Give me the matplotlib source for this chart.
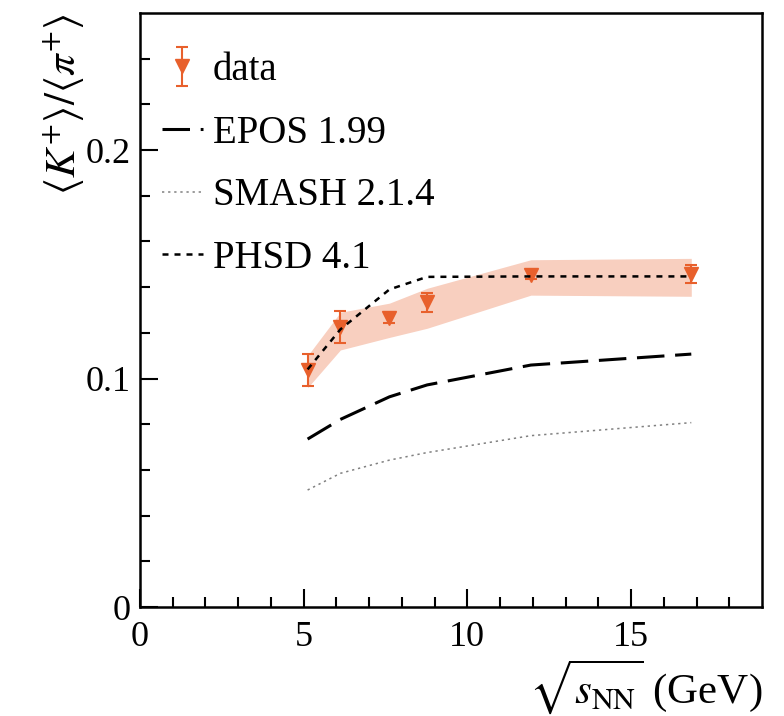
import matplotlib.pyplot as plt
import numpy as np

plt.rcParams['font.family'] = ['Liberation Serif', 'DejaVu Serif']
plt.rcParams['mathtext.fontset'] = 'stix'

# collision energies sqrt(s_NN) in GeV
energy = np.array([5.12, 6.12, 7.62, 8.77, 11.94, 16.84])

# measured K+/pi+ ratio
ratio = np.array([0.1037, 0.1224, 0.1265, 0.1333, 0.1455, 0.1458])
stat_err = np.array([0.007, 0.007, 0.002, 0.004, 0.002, 0.004])
sys_low = np.array([0.096, 0.1125, 0.118, 0.122, 0.1365, 0.136])
sys_high = np.array([0.110, 0.129, 0.133, 0.1395, 0.152, 0.1526])

# model curves
epos = np.array([0.0735, 0.0821, 0.0920, 0.0972, 0.1059, 0.1107])
smash = np.array([0.0512, 0.0585, 0.0643, 0.0676, 0.0750, 0.0807])
phsd = np.array([0.1040, 0.1215, 0.1390, 0.1445, 0.1447, 0.1447])

ytick_vals = [0, 0.1, 0.2]
ytick_labels = ['0', '0.1', '0.2']
xtick_vals = [0, 5, 10, 15]

data_color = '#E8602C'

fig = plt.figure(figsize=(7.84, 7.16), dpi=100)
ax = fig.add_axes([140/784, 109/716, 622/784, 594/716])

ax.fill_between(energy, sys_low, sys_high, color=data_color, alpha=0.3,
                linewidth=0, zorder=1)
h_data = ax.errorbar(energy, ratio, yerr=stat_err, fmt='v', color=data_color,
                     ms=10, capsize=4, elinewidth=1.5, capthick=1.5, zorder=3)
h_epos, = ax.plot(energy, epos, color='black', lw=2.2,
                  linestyle=(0, (9, 3.5)), zorder=2)
h_smash, = ax.plot(energy, smash, color='#808080', lw=1.1,
                   linestyle=(0, (1.5, 2.5)), zorder=2)
h_phsd, = ax.plot(energy, phsd, color='black', lw=1.8,
                  linestyle=(0, (2.4, 2.4)), zorder=4)

ax.set_xlim(0, 19)
ax.set_ylim(0, 0.26)
ax.set_xticks(xtick_vals)
ax.set_yticks(ytick_vals, labels=ytick_labels)
ax.set_xticks(np.arange(0, 19, 1), minor=True)
ax.set_yticks(np.arange(0, 0.26, 0.02), minor=True)
ax.tick_params(which='both', direction='in', top=False, right=False,
               width=1.5, labelsize=26)
ax.tick_params(which='major', length=13)
ax.tick_params(which='minor', length=7)
ax.tick_params(axis='x', pad=10)
ax.tick_params(axis='y', pad=7)
for sp in ax.spines.values():
    sp.set_linewidth(1.8)

ax.set_xlabel(r'$\sqrt{s_{\mathrm{NN}}}$ (GeV)', fontsize=31, loc='right')
ax.xaxis.set_label_coords(1.0, -0.085)
ax.set_ylabel(r'$\langle K^{+}\rangle/\langle \pi^{+}\rangle$', fontsize=31,
              loc='top')
ax.yaxis.set_label_coords(-0.085, 1.0)

ax.legend([h_data, h_epos, h_smash, h_phsd],
          ['data', 'EPOS 1.99', 'SMASH 2.1.4', 'PHSD 4.1'],
          loc='upper left', bbox_to_anchor=(22/622, 1 - 39/594),
          frameon=False, fontsize=28, handlelength=1.05, handletextpad=0.25,
          borderpad=0, borderaxespad=0, labelspacing=0.66)

plt.savefig('out.png')
